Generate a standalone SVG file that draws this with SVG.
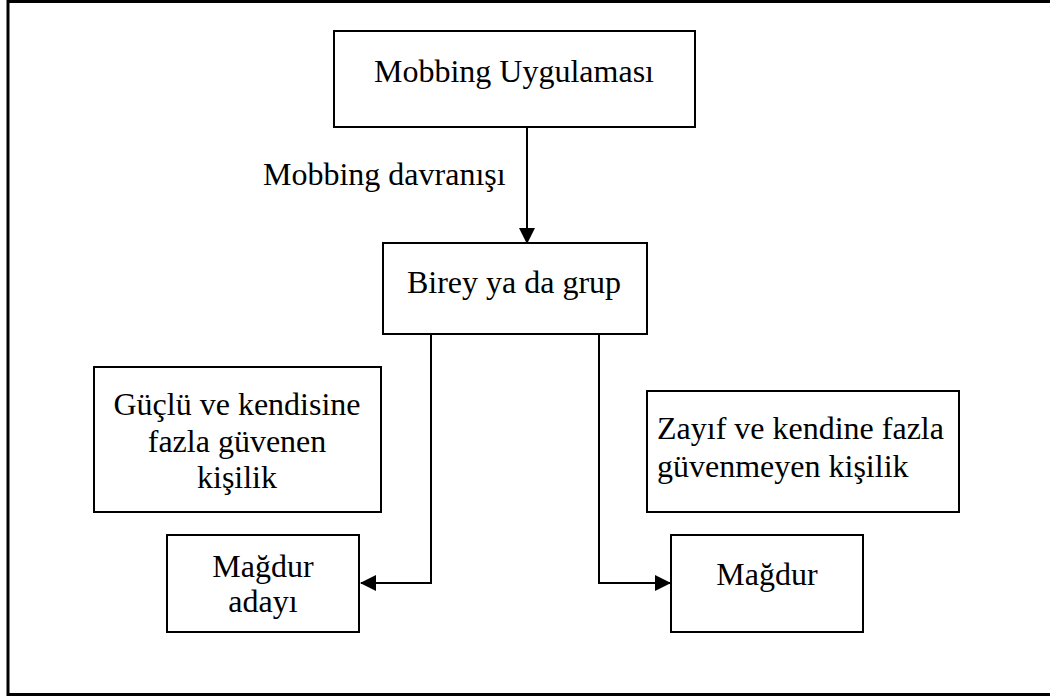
<svg xmlns="http://www.w3.org/2000/svg" width="1050" height="697" viewBox="0 0 1050 697">
  <style>
    .box { fill: #ffffff; stroke: #000000; stroke-width: 2; }
    .frame { fill: none; stroke: #000000; stroke-width: 3; }
    .txt { font-family: "Liberation Serif", "Times New Roman", serif; font-size: 32px; fill: #000000; }
    .mid { text-anchor: middle; }
    .conn { fill: none; stroke: #000000; stroke-width: 2; }
  </style>
  <defs>
    <marker id="arrow" markerWidth="16" markerHeight="16" refX="15" refY="8" orient="auto" markerUnits="userSpaceOnUse">
      <path d="M0,0 L16,8 L0,16 Z" fill="#000000"/>
    </marker>
  </defs>

  <rect width="1050" height="697" fill="#ffffff"/>
  <!-- outer frame, open to the right -->
  <rect class="frame" x="8" y="1.5" width="1100" height="693"/>

  <g id="connectors">
    <line class="conn" x1="527" y1="127" x2="527" y2="243" marker-end="url(#arrow)"/>
    <polyline class="conn" points="431,334 431,583 361,583" marker-end="url(#arrow)"/>
    <polyline class="conn" points="599,334 599,583 670,583" marker-end="url(#arrow)"/>
    <text class="txt" x="263" y="185">Mobbing davranışı</text>
  </g>

  <g id="node-uygulama">
    <rect class="box" x="334" y="31" width="361" height="96"/>
    <text class="txt mid" x="514" y="82">Mobbing Uygulaması</text>
  </g>

  <g id="node-birey">
    <rect class="box" x="383" y="243" width="264" height="91"/>
    <text class="txt mid" x="514" y="293">Birey ya da grup</text>
  </g>

  <g id="node-guclu">
    <rect class="box" x="94" y="367" width="287" height="145"/>
    <text class="txt mid" x="237" y="415">Güçlü ve kendisine</text>
    <text class="txt mid" x="237" y="452">fazla güvenen</text>
    <text class="txt mid" x="237" y="488">kişilik</text>
  </g>

  <g id="node-zayif">
    <rect class="box" x="647" y="391" width="312" height="121"/>
    <text class="txt" x="657" y="439">Zayıf ve kendine fazla</text>
    <text class="txt" x="657" y="477">güvenmeyen kişilik</text>
  </g>

  <g id="node-aday">
    <rect class="box" x="167" y="535" width="192" height="97"/>
    <text class="txt mid" x="263" y="577">Mağdur</text>
    <text class="txt mid" x="263" y="612">adayı</text>
  </g>

  <g id="node-magdur">
    <rect class="box" x="671" y="535" width="192" height="97"/>
    <text class="txt mid" x="767" y="585">Mağdur</text>
  </g>
</svg>
